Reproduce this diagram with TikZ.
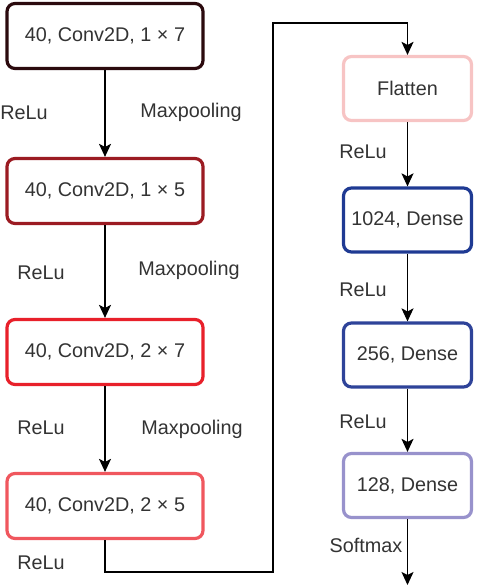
\documentclass[tikz,border=0pt]{standalone}
\usepackage{fontspec}
\setmainfont{Liberation Sans}
\usetikzlibrary{arrows.meta}

\definecolor{conva}{HTML}{2B0A0E}
\definecolor{convb}{HTML}{9B1B22}
\definecolor{convc}{HTML}{E8202A}
\definecolor{convd}{HTML}{F0575E}
\definecolor{flatc}{HTML}{F7C4C4}
\definecolor{densea}{HTML}{1F3A93}
\definecolor{denseb}{HTML}{2E4399}
\definecolor{densec}{HTML}{9892CC}

\tikzset{
    layer/.style={draw, line width=3.2pt, rounded corners=8pt, fill=white,
        font=\fontsize{19.8}{22}\selectfont, text=black!80, inner sep=0pt},
    convbox/.style={layer, minimum width=196pt, minimum height=65pt},
    densebox/.style={layer, minimum width=128pt, minimum height=64pt},
    lbl/.style={font=\fontsize{19.8}{22}\selectfont, text=black!80, inner sep=1pt},
    flow/.style={line width=1.3pt, -{Stealth[length=13pt, width=12pt, inset=3pt]}}
}

\begin{document}
\begin{tikzpicture}[x=1pt, y=-1pt]
        % Definizioni
        \def\colL{105}
        \def\colR{407.5}

        \useasboundingbox (0,0) rectangle (479,586);

        % --- BLOCCHI CONVOLUTIVI ---
        \node[convbox, draw=conva] (conv1) at (\colL,36) {40, Conv2D, 1 × 7};
        \node[convbox, draw=convb] (conv2) at (\colL,191) {40, Conv2D, 1 × 5};
        \node[convbox, draw=convc] (conv3) at (\colL,352) {40, Conv2D, 2 × 7};
        \node[convbox, draw=convd] (conv4) at (\colL,506) {40, Conv2D, 2 × 5};

        % --- BLOCCHI DENSI ---
        \node[densebox, draw=flatc] (flat) at (\colR,88.5) {Flatten};
        \node[densebox, draw=densea] (dense1) at (\colR,220) {1024, Dense};
        \node[densebox, draw=denseb] (dense2) at (\colR,355) {256, Dense};
        \node[densebox, draw=densec] (dense3) at (\colR,485.5) {128, Dense};

        % Punti di passaggio
        \coordinate (giu) at (273,572);
        \coordinate (su) at (273,23);
        \coordinate (uscita) at (\colR,585);

        % Frecce
        \foreach \a/\b in {conv1/conv2, conv2/conv3, conv3/conv4, flat/dense1, dense1/dense2, dense2/dense3}
            \draw[flow] (\a.south) -- (\b.north);
        \draw[flow] (conv4.south) |- (giu) -- (su) -| (flat.north);
        \draw[flow] (dense3.south) -- (uscita);

        % Etichette
        \foreach \x/\y/\testo in {
            24/113/ReLu, 191/112/Maxpooling,
            41/273/ReLu, 189/270/Maxpooling,
            41/428/ReLu, 192/429/Maxpooling,
            41/563/ReLu,
            363/152/ReLu, 363/290/ReLu, 363/422/ReLu,
            366/545/Softmax
        }
        \node[lbl] (lbl-\x-\y) at (\x,\y) {\testo};
\end{tikzpicture}
\end{document}
